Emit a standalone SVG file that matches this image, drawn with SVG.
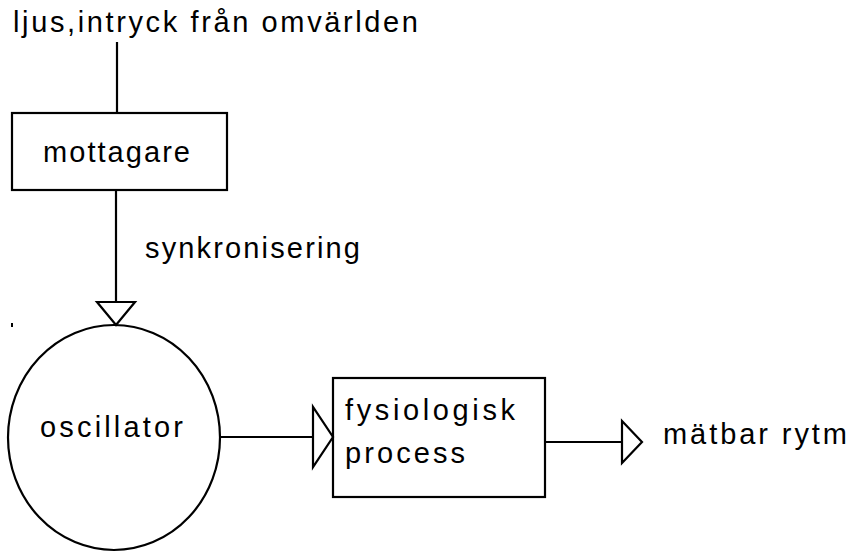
<svg xmlns="http://www.w3.org/2000/svg" width="850" height="553" viewBox="0 0 850 553">
  <style>
    .bg { fill: #ffffff; }
    .shape { fill: none; stroke: #000000; stroke-width: 2.2; }
    .wire { fill: none; stroke: #000000; stroke-width: 2.2; }
    .tri { fill: #ffffff; stroke: #000000; stroke-width: 2.2; stroke-linejoin: miter; }
    .lbl { font-family: "Liberation Sans", Arial, sans-serif; font-size: 29px; fill: #000000; }
  </style>

  <rect class="bg" x="0" y="0" width="850" height="553"/>

  <!-- input text at the top -->
  <g id="input">
    <text class="lbl" x="13" y="32" textLength="405" lengthAdjust="spacing">ljus,intryck från omvärlden</text>
  </g>

  <!-- connectors -->
  <g id="connectors">
    <line class="wire" x1="117" y1="42" x2="117" y2="113"/>
    <line class="wire" x1="116" y1="190" x2="116" y2="302"/>
    <polygon class="tri" points="97,302 135,302 116,325"/>
    <line class="wire" x1="220" y1="437" x2="313" y2="437"/>
    <polygon class="tri" points="313,407 313,467 333,437"/>
    <line class="wire" x1="545" y1="442" x2="622" y2="442"/>
    <polygon class="tri" points="622,421 622,463 642,442"/>
    <text class="lbl" x="145" y="258" textLength="215" lengthAdjust="spacing">synkronisering</text>
  </g>

  <!-- receiver -->
  <g id="mottagare">
    <rect class="shape" x="12" y="113" width="215" height="77"/>
    <text class="lbl" x="43" y="162" textLength="147" lengthAdjust="spacing">mottagare</text>
  </g>

  <!-- oscillator -->
  <g id="oscillator">
    <ellipse class="shape" cx="114" cy="437.5" rx="106" ry="112.5"/>
    <text class="lbl" x="40" y="437" textLength="143" lengthAdjust="spacing">oscillator</text>
  </g>

  <!-- physiological process -->
  <g id="process">
    <rect class="shape" x="333" y="378" width="212" height="119"/>
    <text class="lbl" x="345" y="420" textLength="170" lengthAdjust="spacing">fysiologisk</text>
    <text class="lbl" x="345" y="463" textLength="120" lengthAdjust="spacing">process</text>
  </g>

  <!-- measurable output -->
  <g id="output">
    <text class="lbl" x="663" y="444" textLength="184" lengthAdjust="spacing">mätbar rytm</text>
  </g>

  <!-- small mark left of the oscillator -->
  <rect x="11" y="323" width="2" height="4" fill="#000000"/>
</svg>
